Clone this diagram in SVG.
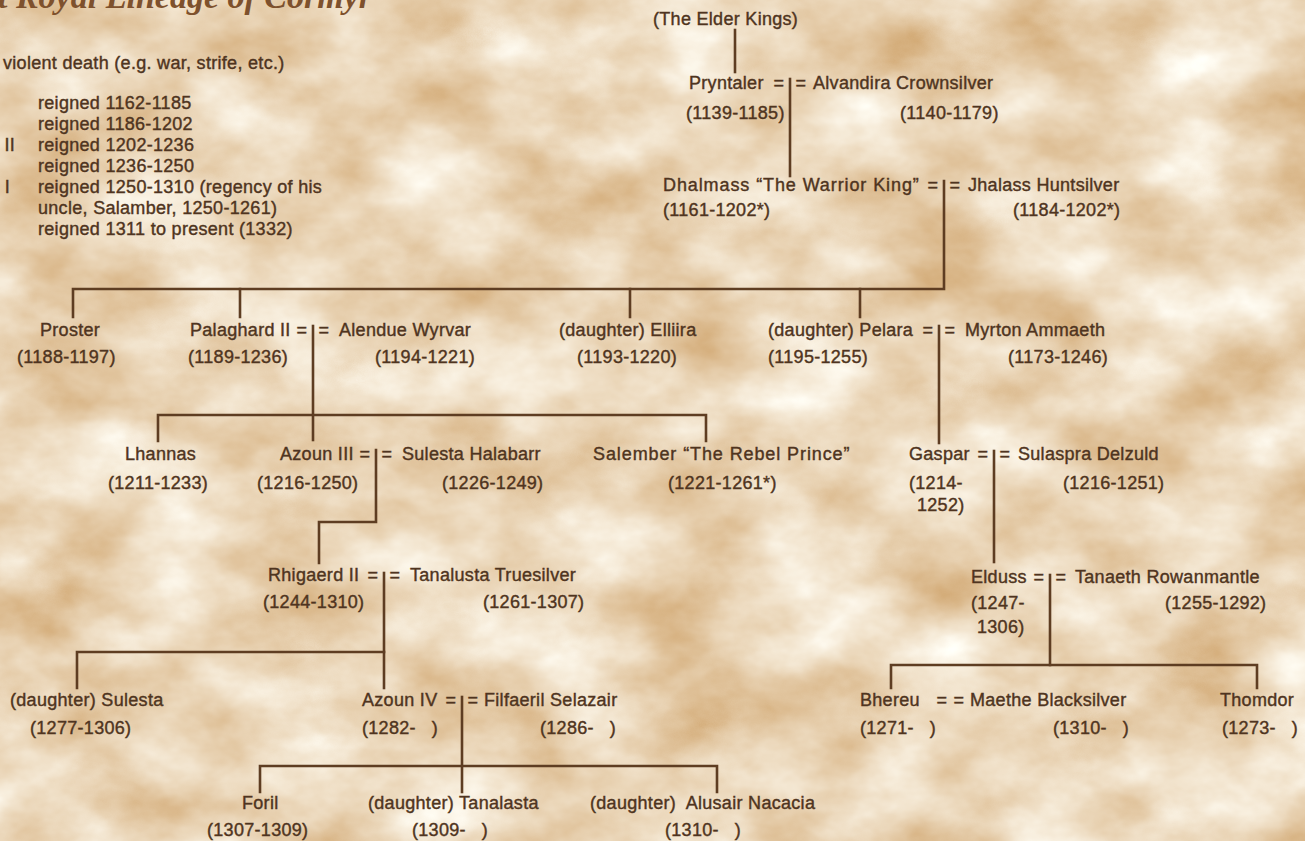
<svg xmlns="http://www.w3.org/2000/svg" width="1305" height="841" viewBox="0 0 1305 841">
<defs>
<filter id="parch" x="0" y="0" width="100%" height="100%" color-interpolation-filters="sRGB">
<feTurbulence type="fractalNoise" baseFrequency="0.008 0.012" numOctaves="5" seed="7" result="n"/>
<feColorMatrix in="n" type="matrix" values="-0.25 0 0 0 1.045  -0.46 0 0 0 1.07  -0.7 0 0 0 1.075  0 0 0 0 1"/>
</filter>
<style>
.t{font-family:"Liberation Sans",Arial,Helvetica,sans-serif;font-size:18px;letter-spacing:0.3px;fill:#4f3420;stroke:#4f3420;stroke-width:0.4;white-space:pre}
.wide{letter-spacing:0.9px}
.eq{text-anchor:middle}
.title{font-family:"Liberation Serif","Times New Roman",serif;font-style:italic;font-weight:bold;font-size:34px;fill:#7e512d}
.ln{stroke:#5e3d22;stroke-width:2.6;fill:none;stroke-linecap:square;stroke-linejoin:miter}
</style>
</defs>
<rect width="1305" height="841" fill="#efe1c8"/>
<rect width="1305" height="841" filter="url(#parch)"/>

<g id="title"><text class="title" x="-2" y="8">t Royal Lineage of Cormyr</text></g>

<g id="legend">
<text class="t" x="3" y="69">violent death (e.g. war, strife, etc.)</text>
<text class="t" x="38" y="109">reigned 1162-1185</text>
<text class="t" x="38" y="130">reigned 1186-1202</text>
<text class="t" x="15" y="151" text-anchor="end">II</text>
<text class="t" x="38" y="151">reigned 1202-1236</text>
<text class="t" x="38" y="172">reigned 1236-1250</text>
<text class="t" x="10" y="193" text-anchor="end">I</text>
<text class="t" x="38" y="193">reigned 1250-1310 (regency of his</text>
<text class="t" x="38" y="214">uncle, Salamber, 1250-1261)</text>
<text class="t" x="38" y="235">reigned 1311 to present (1332)</text>
</g>

<g id="connectors">
<path class="ln" d="M735,30 V72"/>
<path class="ln" d="M790,79 V176"/>
<path class="ln" d="M944,181 V289 H73 V317"/>
<path class="ln" d="M240,289 V317 M630,289 V317 M860,289 V317"/>
<path class="ln" d="M313,326 V440"/>
<path class="ln" d="M158,441 V415 H706 V441"/>
<path class="ln" d="M939,326 V443"/>
<path class="ln" d="M376,450 V522 H319 V563"/>
<path class="ln" d="M994,451 V562"/>
<path class="ln" d="M384,573 V688"/>
<path class="ln" d="M77,688 V652 H384"/>
<path class="ln" d="M1050,575 V665"/>
<path class="ln" d="M891,688 V665 H1257 V688"/>
<path class="ln" d="M462,697 V792"/>
<path class="ln" d="M260,792 V766 H717 V792"/>
</g>

<g id="elder-kings"><text class="t" x="653" y="25">(The Elder Kings)</text></g>

<g id="pryntaler"><text class="t" x="689" y="89">Pryntaler</text><text class="t" x="686" y="119">(1139-1185)</text></g>
<g id="union-pryntaler"><text class="t eq" x="779" y="89">=</text><text class="t eq" x="801" y="89">=</text></g>
<g id="alvandira"><text class="t" x="813" y="89">Alvandira Crownsilver</text><text class="t" x="900" y="119">(1140-1179)</text></g>

<g id="dhalmass"><text class="t wide" x="663" y="191">Dhalmass “The Warrior King”</text><text class="t" x="663" y="216">(1161-1202*)</text></g>
<g id="union-dhalmass"><text class="t eq" x="933" y="191">=</text><text class="t eq" x="955" y="191">=</text></g>
<g id="jhalass"><text class="t" x="968" y="191">Jhalass Huntsilver</text><text class="t" x="1013" y="216">(1184-1202*)</text></g>

<g id="proster"><text class="t" x="40" y="336">Proster</text><text class="t" x="17" y="363">(1188-1197)</text></g>
<g id="palaghard"><text class="t" x="190" y="336">Palaghard II</text><text class="t" x="188" y="363">(1189-1236)</text></g>
<g id="union-palaghard"><text class="t eq" x="302" y="336">=</text><text class="t eq" x="324" y="336">=</text></g>
<g id="alendue"><text class="t" x="339" y="336">Alendue Wyrvar</text><text class="t" x="375" y="363">(1194-1221)</text></g>
<g id="elliira"><text class="t" x="559" y="336">(daughter) Elliira</text><text class="t" x="577" y="363">(1193-1220)</text></g>
<g id="pelara"><text class="t" x="768" y="336">(daughter) Pelara</text><text class="t" x="768" y="363">(1195-1255)</text></g>
<g id="union-pelara"><text class="t eq" x="928" y="336">=</text><text class="t eq" x="950" y="336">=</text></g>
<g id="myrton"><text class="t" x="965" y="336">Myrton Ammaeth</text><text class="t" x="1008" y="363">(1173-1246)</text></g>

<g id="lhannas"><text class="t" x="125" y="460">Lhannas</text><text class="t" x="108" y="489">(1211-1233)</text></g>
<g id="azoun3"><text class="t" x="280" y="460">Azoun III</text><text class="t" x="257" y="489">(1216-1250)</text></g>
<g id="union-azoun3"><text class="t eq" x="365" y="460">=</text><text class="t eq" x="387" y="460">=</text></g>
<g id="sulesta-h"><text class="t" x="402" y="460">Sulesta Halabarr</text><text class="t" x="442" y="489">(1226-1249)</text></g>
<g id="salember"><text class="t wide" x="593" y="460">Salember “The Rebel Prince”</text><text class="t" x="668" y="489">(1221-1261*)</text></g>
<g id="gaspar"><text class="t" x="909" y="460">Gaspar</text><text class="t" x="909" y="489">(1214-</text><text class="t" x="917" y="511">1252)</text></g>
<g id="union-gaspar"><text class="t eq" x="983" y="460">=</text><text class="t eq" x="1005" y="460">=</text></g>
<g id="sulaspra"><text class="t" x="1018" y="460">Sulaspra Delzuld</text><text class="t" x="1063" y="489">(1216-1251)</text></g>

<g id="rhigaerd"><text class="t" x="268" y="581">Rhigaerd II</text><text class="t" x="263" y="608">(1244-1310)</text></g>
<g id="union-rhigaerd"><text class="t eq" x="373" y="581">=</text><text class="t eq" x="395" y="581">=</text></g>
<g id="tanalusta"><text class="t" x="410" y="581">Tanalusta Truesilver</text><text class="t" x="483" y="608">(1261-1307)</text></g>
<g id="elduss"><text class="t" x="971" y="583">Elduss</text><text class="t" x="971" y="609">(1247-</text><text class="t" x="977" y="633">1306)</text></g>
<g id="union-elduss"><text class="t eq" x="1039" y="583">=</text><text class="t eq" x="1061" y="583">=</text></g>
<g id="tanaeth"><text class="t" x="1075" y="583">Tanaeth Rowanmantle</text><text class="t" x="1165" y="609">(1255-1292)</text></g>

<g id="sulesta"><text class="t" x="10" y="706">(daughter) Sulesta</text><text class="t" x="30" y="734">(1277-1306)</text></g>
<g id="azoun4"><text class="t" x="362" y="706">Azoun IV</text><text class="t" x="362" y="734">(1282-   )</text></g>
<g id="union-azoun4"><text class="t eq" x="451" y="706">=</text><text class="t eq" x="473" y="706">=</text></g>
<g id="filfaeril"><text class="t" x="484" y="706">Filfaeril Selazair</text><text class="t" x="540" y="734">(1286-   )</text></g>
<g id="bhereu"><text class="t" x="860" y="706">Bhereu</text><text class="t" x="860" y="734">(1271-   )</text></g>
<g id="union-bhereu"><text class="t eq" x="942" y="706">=</text><text class="t eq" x="959" y="706">=</text></g>
<g id="maethe"><text class="t" x="970" y="706">Maethe Blacksilver</text><text class="t" x="1053" y="734">(1310-   )</text></g>
<g id="thomdor"><text class="t" x="1220" y="706">Thomdor</text><text class="t" x="1222" y="734">(1273-   )</text></g>

<g id="foril"><text class="t" x="242" y="809">Foril</text><text class="t" x="207" y="836">(1307-1309)</text></g>
<g id="tanalasta"><text class="t" x="368" y="809">(daughter) Tanalasta</text><text class="t" x="412" y="836">(1309-   )</text></g>
<g id="alusair"><text class="t" x="590" y="809">(daughter)  Alusair Nacacia</text><text class="t" x="665" y="836">(1310-   )</text></g>
</svg>
